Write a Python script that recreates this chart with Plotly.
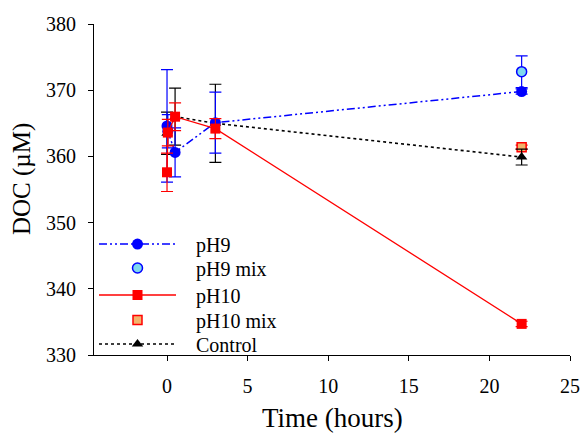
import plotly.graph_objects as go

# Data (time in hours, DOC in µM)
t_ph9 = [0, 0.05, 0.5, 3, 22]
v_ph9 = [364.6, 363.8, 360.6, 365.1, 369.8]
e_ph9 = [8.5, 2.5, 3.7, 4.6, 0.4]

t_ph9mix = [22]
v_ph9mix = [372.8]
e_ph9mix = [2.4]

t_ph10 = [0, 0.05, 0.5, 3, 22]
v_ph10 = [357.6, 363.6, 366.0, 364.2, 334.7]
e_ph10 = [2.9, 2.0, 2.1, 1.5, 0.4]

t_ph10mix = [22]
v_ph10mix = [361.4]
e_ph10mix = [0.3]

t_ctrl = [0, 0.5, 3, 22]
v_ctrl = [363.5, 366.0, 365.0, 359.9]
e_ctrl = [3.2, 4.3, 5.9, 1.2]

x_ticks = [0, 5, 10, 15, 20, 25]
y_ticks = [330, 340, 350, 360, 370, 380]

FONT = "Liberation Serif, Times New Roman, serif"
BLUE = "#0000FF"
RED = "#FF0000"
PAD = "\u00a0" * 3

fig = go.Figure()

def eb(vals, color):
    return dict(type="data", array=vals, visible=True, color=color,
                thickness=1.2, width=6)

fig.add_trace(go.Scatter(
    x=t_ph9mix, y=v_ph9mix, name=PAD + "pH9 mix", mode="markers", legend="legend2",
    marker=dict(symbol="circle", size=10, color="#7FD8EE",
                line=dict(color=BLUE, width=1.5)),
    error_y=eb(e_ph9mix, BLUE)))

fig.add_trace(go.Scatter(
    x=t_ph10mix, y=v_ph10mix, name=PAD + "pH10 mix", mode="markers", legend="legend4",
    marker=dict(symbol="square", size=9, color="#F2B36B",
                line=dict(color=RED, width=1.5)),
    error_y=eb(e_ph10mix, RED)))

fig.add_trace(go.Scatter(
    x=t_ctrl, y=v_ctrl, name=PAD + "Control", mode="lines+markers", legend="legend5",
    line=dict(color="black", width=1.6, dash="dot"),
    marker=dict(symbol="triangle-up", size=10, color="black"),
    error_y=eb(e_ctrl, "black")))

fig.add_trace(go.Scatter(
    x=t_ph9, y=v_ph9, name=PAD + "pH9", mode="lines+markers", legend="legend",
    line=dict(color=BLUE, width=1.5, dash="8px,3px,2px,3px,2px,3px"),
    marker=dict(symbol="circle", size=11, color=BLUE),
    error_y=eb(e_ph9, BLUE)))

fig.add_trace(go.Scatter(
    x=t_ph10, y=v_ph10, name=PAD + "pH10", mode="lines+markers", legend="legend3",
    line=dict(color=RED, width=1.3),
    marker=dict(symbol="square", size=10, color=RED),
    error_y=eb(e_ph10, RED)))

def leg(y):
    return dict(x=0.0, y=y, xanchor="left", yanchor="middle",
                bgcolor="rgba(0,0,0,0)", font=dict(family=FONT, size=20),
                itemwidth=77, tracegroupgap=0)

fig.update_layout(
    width=581, height=433,
    margin=dict(l=94, r=11, t=24, b=78, autoexpand=False),
    paper_bgcolor="white", plot_bgcolor="white",
    font=dict(family=FONT, size=20, color="black"),
    showlegend=True,
    legend=leg(0.3353), legend2=leg(0.2628), legend3=leg(0.1813),
    legend4=leg(0.1057), legend5=leg(0.0332),
    xaxis=dict(range=[-4.53, 25], tickvals=x_ticks, showgrid=False,
               zeroline=False, showline=True, linecolor="black", linewidth=1,
               ticks="outside", ticklen=5, tickcolor="black", automargin=False,
               ticklabelstandoff=8,
               tickfont=dict(family=FONT, size=20)),
    yaxis=dict(range=[330, 380], tickvals=y_ticks, showgrid=False,
               zeroline=False, showline=True, linecolor="black", linewidth=1,
               ticks="outside", ticklen=5, tickcolor="black", automargin=False,
               ticklabelstandoff=8,
               tickfont=dict(family=FONT, size=20)),
    annotations=[
        dict(text="Time (hours)", xref="paper", yref="paper", x=0.5, y=-0.19,
             xanchor="center", yanchor="middle", showarrow=False,
             font=dict(family=FONT, size=27)),
        dict(text="DOC (µM)", xref="paper", yref="paper", x=-0.151, y=0.532,
             xanchor="center", yanchor="middle", showarrow=False, textangle=-90,
             font=dict(family=FONT, size=25)),
    ],
)

fig.write_html(
    "out.html",
    config={"displayModeBar": False},
    post_script="document.body.style.margin='0';document.body.style.overflow='hidden';",
)
